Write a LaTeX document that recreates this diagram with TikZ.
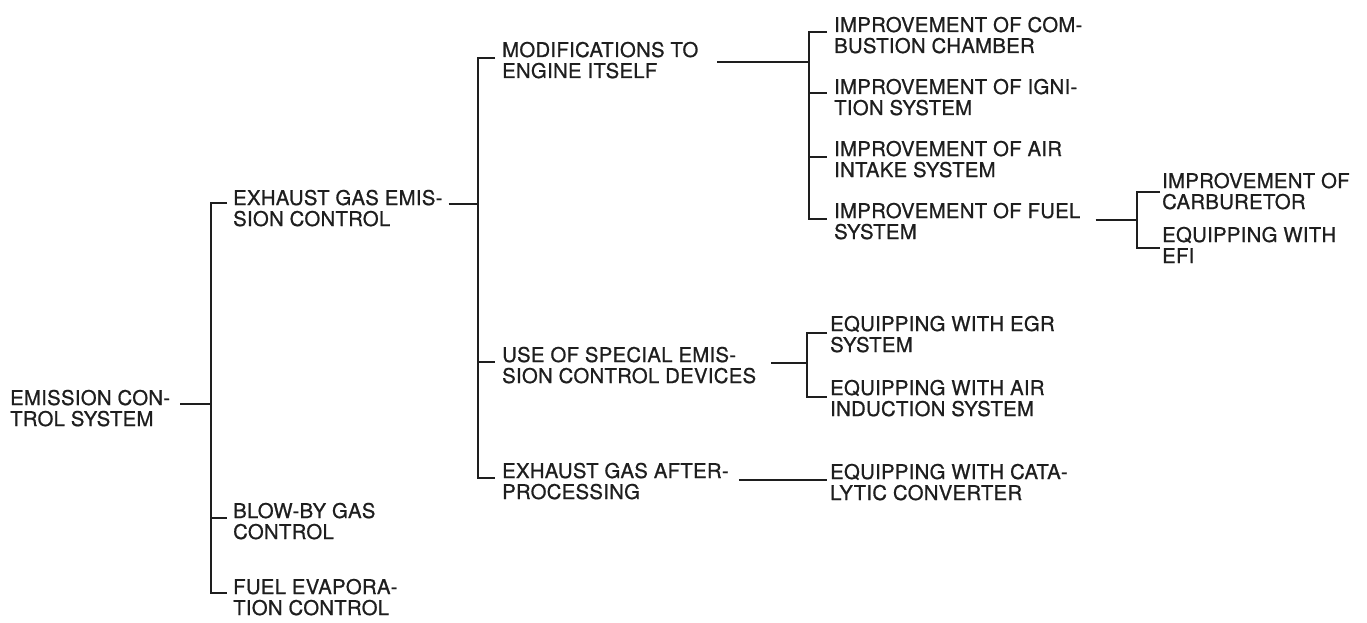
\documentclass[tikz,border=0pt]{standalone}
\usepackage{fontspec}
\setmainfont{TeX Gyre Heros}[FakeBold=0.8, LetterSpace=1.5]
\usetikzlibrary{calc}
\definecolor{ink}{HTML}{1E1E1E}
\newcommand{\twoline}[2]{\vtop{\hbox{#1}\hbox{#2}}}
\begin{document}
\begin{tikzpicture}[x=1pt,y=-1pt,
  lbl/.style={anchor=base west, inner sep=0pt, text=ink,
    font=\fontsize{20.3}{21}\selectfont},
  ln/.style={line width=1.3pt, draw=ink}]
\useasboundingbox[fill=white] (0,0) rectangle (1367,623);
% nodes
\node[lbl] (n0) at (10,405) {\twoline{EMISSION CON-}{TROL SYSTEM}};
\node[lbl] (n1a) at (233,205) {\twoline{EXHAUST GAS EMIS-}{SION CONTROL}};
\node[lbl] (n1b) at (233,518) {\twoline{BLOW-BY GAS}{CONTROL}};
\node[lbl] (n1c) at (233,594) {\twoline{FUEL EVAPORA-}{TION CONTROL}};
\node[lbl] (n2a) at (502,57) {\twoline{MODIFICATIONS TO}{ENGINE ITSELF}};
\node[lbl] (n2b) at (502,362) {\twoline{USE OF SPECIAL EMIS-}{SION CONTROL DEVICES}};
\node[lbl] (n2c) at (502,478) {\twoline{EXHAUST GAS AFTER-}{PROCESSING}};
\node[lbl] (n3a) at (834,32) {\twoline{IMPROVEMENT OF COM-}{BUSTION CHAMBER}};
\node[lbl] (n3b) at (834,94) {\twoline{IMPROVEMENT OF IGNI-}{TION SYSTEM}};
\node[lbl] (n3c) at (834,156) {\twoline{IMPROVEMENT OF AIR}{INTAKE SYSTEM}};
\node[lbl] (n3d) at (834,218) {\twoline{IMPROVEMENT OF FUEL}{SYSTEM}};
\node[lbl] (n3e) at (830,331) {\twoline{EQUIPPING WITH EGR}{SYSTEM}};
\node[lbl] (n3f) at (830,395) {\twoline{EQUIPPING WITH AIR}{INDUCTION SYSTEM}};
\node[lbl] (n3g) at (830,479) {\twoline{EQUIPPING WITH CATA-}{LYTIC CONVERTER}};
\node[lbl] (n4a) at (1162,188) {\twoline{IMPROVEMENT OF}{CARBURETOR}};
\node[lbl] (n4b) at (1162,242) {\twoline{EQUIPPING WITH}{EFI}};
% junctions
\coordinate (s1) at (211,404);
\coordinate (s2) at (478,204);
\coordinate (s3) at (809,62);
\coordinate (s4) at (807,363);
\coordinate (s5) at (1137,220);
% level 0 -> 1
\draw[ln] (n0.east |- s1) ++(10,0) -- (s1);
\draw[ln] ($(n1a.base west)+(-6,-2)$) -| (s1) |- ($(n1c.base west)+(-6,-1)$);
\draw[ln] (s1 |- n1b.base) -- ($(n1b.base west)+(-6,0)$);
% level 1 -> 2
\draw[ln] (n1a.east |- s2) ++(6,0) -- (s2);
\draw[ln] ($(n2a.base west)+(-7,1)$) -| (s2) |- ($(n2c.base west)+(-7,0)$);
\draw[ln] (s2 |- n2b.base) -- ($(n2b.base west)+(-7,0)$);
% level 2 -> 3 (engine itself)
\draw[ln] (n2a.east |- s3) ++(19,0) -- (s3);
\draw[ln] ($(n3a.base west)+(-7,0)$) -| (s3) |- ($(n3d.base west)+(-7,1)$);
\draw[ln] ($(s3 |- n3b.base)+(0,-1)$) -- ($(n3b.base west)+(-7,-1)$);
\draw[ln] ($(s3 |- n3c.base)+(0,1)$) -- ($(n3c.base west)+(-7,1)$);
% level 2 -> 3 (special devices)
\draw[ln] (n2b.east |- s4) ++(15,0) -- (s4);
\draw[ln] ($(n3e.base west)+(-3,2)$) -| (s4) |- ($(n3f.base west)+(-3,2)$);
% after-processing -> catalytic converter
\draw[ln] (n2c.east |- 0,480) ++(10,0) -- ($(n3g.base west)+(-3,1)$);
% level 3 -> 4 (fuel system)
\draw[ln] (n3d.east |- s5) ++(15,0) -- (s5);
\draw[ln] ($(n4a.base west)+(-2,4)$) -| (s5) |- ($(n4b.base west)+(-2,6)$);
\end{tikzpicture}
\end{document}
